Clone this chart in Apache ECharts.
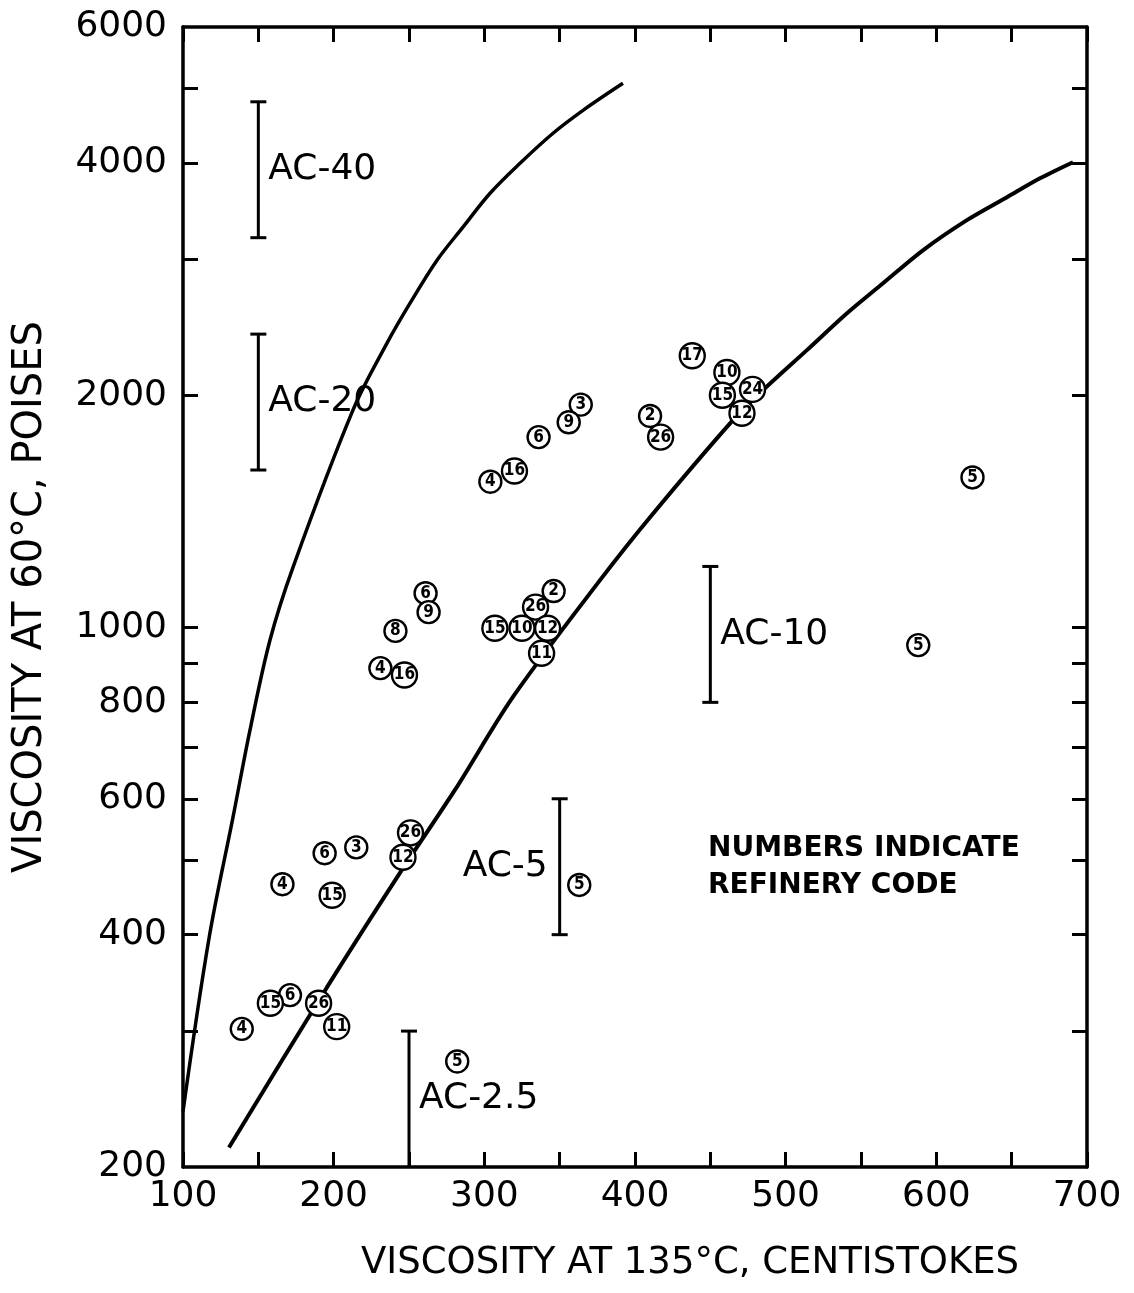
<!DOCTYPE html>
<html>
<head>
<meta charset="utf-8">
<script src="https://cdn.jsdelivr.net/npm/echarts@6/dist/echarts.min.js"></script>
<style>html,body{margin:0;padding:0;background:#fff}#chart{width:1134px;height:1293px}</style>
</head>
<body>
<div id="chart"></div>
<script>
// ---- axis ticks ----
const xTickLabels = [100, 200, 300, 400, 500, 600, 700];
const yTickLabels = [200, 400, 600, 800, 1000, 2000, 4000, 6000];
const yTickMarks = [300, 400, 500, 600, 700, 800, 900, 1000, 2000, 3000, 4000, 5000];

// ---- curves (viscosity 135°C cSt, viscosity 60°C P) ----
const leftCurveX = [100, 117.3, 133.2, 144.5, 157.7, 173.0, 212.8, 235.4, 250.7, 268.6, 285.8, 303.8, 323.7, 345.6, 365.5, 392.0];
const leftCurveY = [236, 396, 568, 737, 963, 1197, 1913, 2336, 2632, 2992, 3302, 3654, 3996, 4370, 4679, 5072];
const rightCurveX = [130.5, 195.6, 244.0, 280.5, 319.0, 376.8, 410.0, 465.0, 484.9, 514.1, 540.7, 564.6, 591.1, 620.3, 646.9, 668.8, 690.7];
const rightCurveY = [212, 342, 481, 616, 813, 1152, 1390, 1857, 2030, 2288, 2554, 2793, 3082, 3372, 3611, 3820, 4008];

// ---- grade ranges ----
const gradeNames = ['AC-40', 'AC-20', 'AC-10', 'AC-5', 'AC-2.5'];
const gradeX = [150, 150, 450, 350, 250];
const gradeLow = [3200, 1600, 800, 400, 200];
const gradeHigh = [4800, 2400, 1200, 600, 300];

// ---- refinery samples ----
const refineryCode = [17, 10, 15, 24, 12, 3, 9, 6, 16, 4, 2, 26, 5,
                      6, 9, 8, 4, 16, 2, 26, 15, 10, 12, 11, 5,
                      26, 12, 6, 3, 4, 15, 5, 6, 15, 26, 4, 11, 5];
const visc135 = [438, 461, 458, 478, 471, 364, 356, 336, 320, 304, 410, 417, 624,
                 261, 263, 241, 231, 247, 346, 334, 307, 325, 342, 338, 588,
                 251, 246, 194, 215, 166, 199, 363, 171, 158, 190, 139, 202, 282];
const visc60 = [2250, 2140, 2000, 2035, 1895, 1945, 1845, 1765, 1595, 1545, 1880, 1765, 1565,
                1108, 1047, 990, 886, 868, 1115, 1063, 998, 998, 998, 926, 949,
                542, 504, 510, 519, 465, 450, 464, 334, 326, 326, 302, 304, 274];

const FONT = '"DejaVu Sans", "Liberation Sans", sans-serif';
const Y_MIN = 200, Y_MAX = 6000;

const chart = echarts.init(document.getElementById('chart'), null, {renderer: 'canvas'});

const axisLine = {show: true, lineStyle: {color: '#000', width: 3.5}};
const tickStyle = {color: '#000', width: 3};
const plain = function (v) { return String(Math.round(v)); };

const option = {
  backgroundColor: '#fff',
  animation: false,
  grid: {left: 183, right: 47, top: 27, bottom: 126, show: false},
  xAxis: [
    {
      type: 'value', min: 100, max: 700, interval: 50, position: 'bottom',
      axisLine: axisLine,
      axisTick: {show: true, inside: true, length: 15, lineStyle: tickStyle},
      axisLabel: {customValues: xTickLabels, formatter: plain, fontSize: 36, color: '#000', fontFamily: FONT, margin: 12},
      splitLine: {show: false},
      name: 'VISCOSITY AT 135°C, CENTISTOKES',
      nameLocation: 'middle', nameGap: 78,
      nameTextStyle: {fontSize: 37, color: '#000', fontFamily: FONT, padding: [0, 0, 0, 110]}
    },
    {
      type: 'value', min: 100, max: 700, interval: 50, position: 'top',
      axisLine: axisLine,
      axisTick: {show: true, inside: true, length: 15, lineStyle: tickStyle},
      axisLabel: {show: false},
      splitLine: {show: false}
    }
  ],
  yAxis: [
    {
      type: 'log', logBase: 10, min: Y_MIN, max: Y_MAX, position: 'left',
      axisLine: axisLine,
      axisTick: {show: true, inside: true, length: 15, lineStyle: tickStyle, customValues: yTickMarks},
      minorTick: {show: false},
      axisLabel: {customValues: yTickLabels, formatter: plain, fontSize: 36, color: '#000', fontFamily: FONT, margin: 16},
      splitLine: {show: false},
      name: 'VISCOSITY AT 60°C, POISES',
      nameLocation: 'middle', nameGap: 132, nameRotate: 90,
      nameTextStyle: {fontSize: 40, color: '#000', fontFamily: FONT}
    },
    {
      type: 'log', logBase: 10, min: Y_MIN, max: Y_MAX, position: 'right',
      axisLine: axisLine,
      axisTick: {show: true, inside: true, length: 15, lineStyle: tickStyle, customValues: yTickMarks},
      minorTick: {show: false},
      axisLabel: {show: false},
      splitLine: {show: false}
    }
  ],
  graphic: [{
    type: 'text', left: 708, top: 830, z: 100,
    style: {text: 'NUMBERS INDICATE\nREFINERY CODE', fontSize: 28, fontWeight: 'bold',
            fontFamily: FONT, lineHeight: 37, fill: '#000'}
  }],
  series: [
    {
      type: 'line', name: 'upper limit', xAxisIndex: 0, yAxisIndex: 0,
      data: leftCurveX.map((x, i) => [x, leftCurveY[i]]),
      showSymbol: false, smooth: 0.35,
      lineStyle: {color: '#000', width: 3.5}, z: 2
    },
    {
      type: 'line', name: 'lower limit', xAxisIndex: 0, yAxisIndex: 0,
      data: rightCurveX.map((x, i) => [x, rightCurveY[i]]),
      showSymbol: false, smooth: 0.3,
      lineStyle: {color: '#000', width: 4}, z: 2
    },
    {
      type: 'custom', name: 'grades', xAxisIndex: 0, yAxisIndex: 0,
      data: gradeNames.map((n, i) => [gradeX[i], gradeLow[i], gradeHigh[i]]),
      encode: {x: 0, y: [1, 2]},
      renderItem: function (params, api) {
        const x = api.value(0), lo = api.value(1), hi = api.value(2);
        const name = gradeNames[params.dataIndex];
        const top = api.coord([x, hi]);
        const bot = api.coord([x, lo]);
        const mid = api.coord([x, Math.sqrt(lo * hi)]);
        const cap = 8;
        const st = {stroke: '#000', lineWidth: 3};
        const kids = [
          {type: 'line', shape: {x1: top[0], y1: top[1], x2: bot[0], y2: bot[1]}, style: st},
          {type: 'line', shape: {x1: top[0] - cap, y1: top[1], x2: top[0] + cap, y2: top[1]}, style: st}
        ];
        if (lo > Y_MIN) {
          kids.push({type: 'line', shape: {x1: bot[0] - cap, y1: bot[1], x2: bot[0] + cap, y2: bot[1]}, style: st});
        }
        const leftSide = name === 'AC-5';
        kids.push({
          type: 'text', x: top[0] + (leftSide ? -12 : 10), y: mid[1],
          style: {text: name, fill: '#000', fontSize: 36, fontFamily: FONT,
                  align: leftSide ? 'right' : 'left', verticalAlign: 'middle'}
        });
        return {type: 'group', children: kids};
      },
      z: 3
    },
    {
      type: 'scatter', name: 'refineries', xAxisIndex: 0, yAxisIndex: 0,
      data: refineryCode.map((c, i) => [visc135[i], visc60[i], c]),
      symbol: 'circle',
      symbolSize: function (v) { return String(v[2]).length > 1 ? 25 : 22; },
      itemStyle: {color: '#fff', borderColor: '#000', borderWidth: 2.4, opacity: 1},
      label: {
        show: true, position: 'inside', color: '#000', fontSize: 17, fontWeight: 'bold',
        fontFamily: '"DejaVu Sans Condensed", "Liberation Sans Narrow", ' + FONT,
        formatter: function (p) { return String(p.value[2]); }
      },
      z: 5
    }
  ]
};

chart.setOption(option);
</script>
</body>
</html>
